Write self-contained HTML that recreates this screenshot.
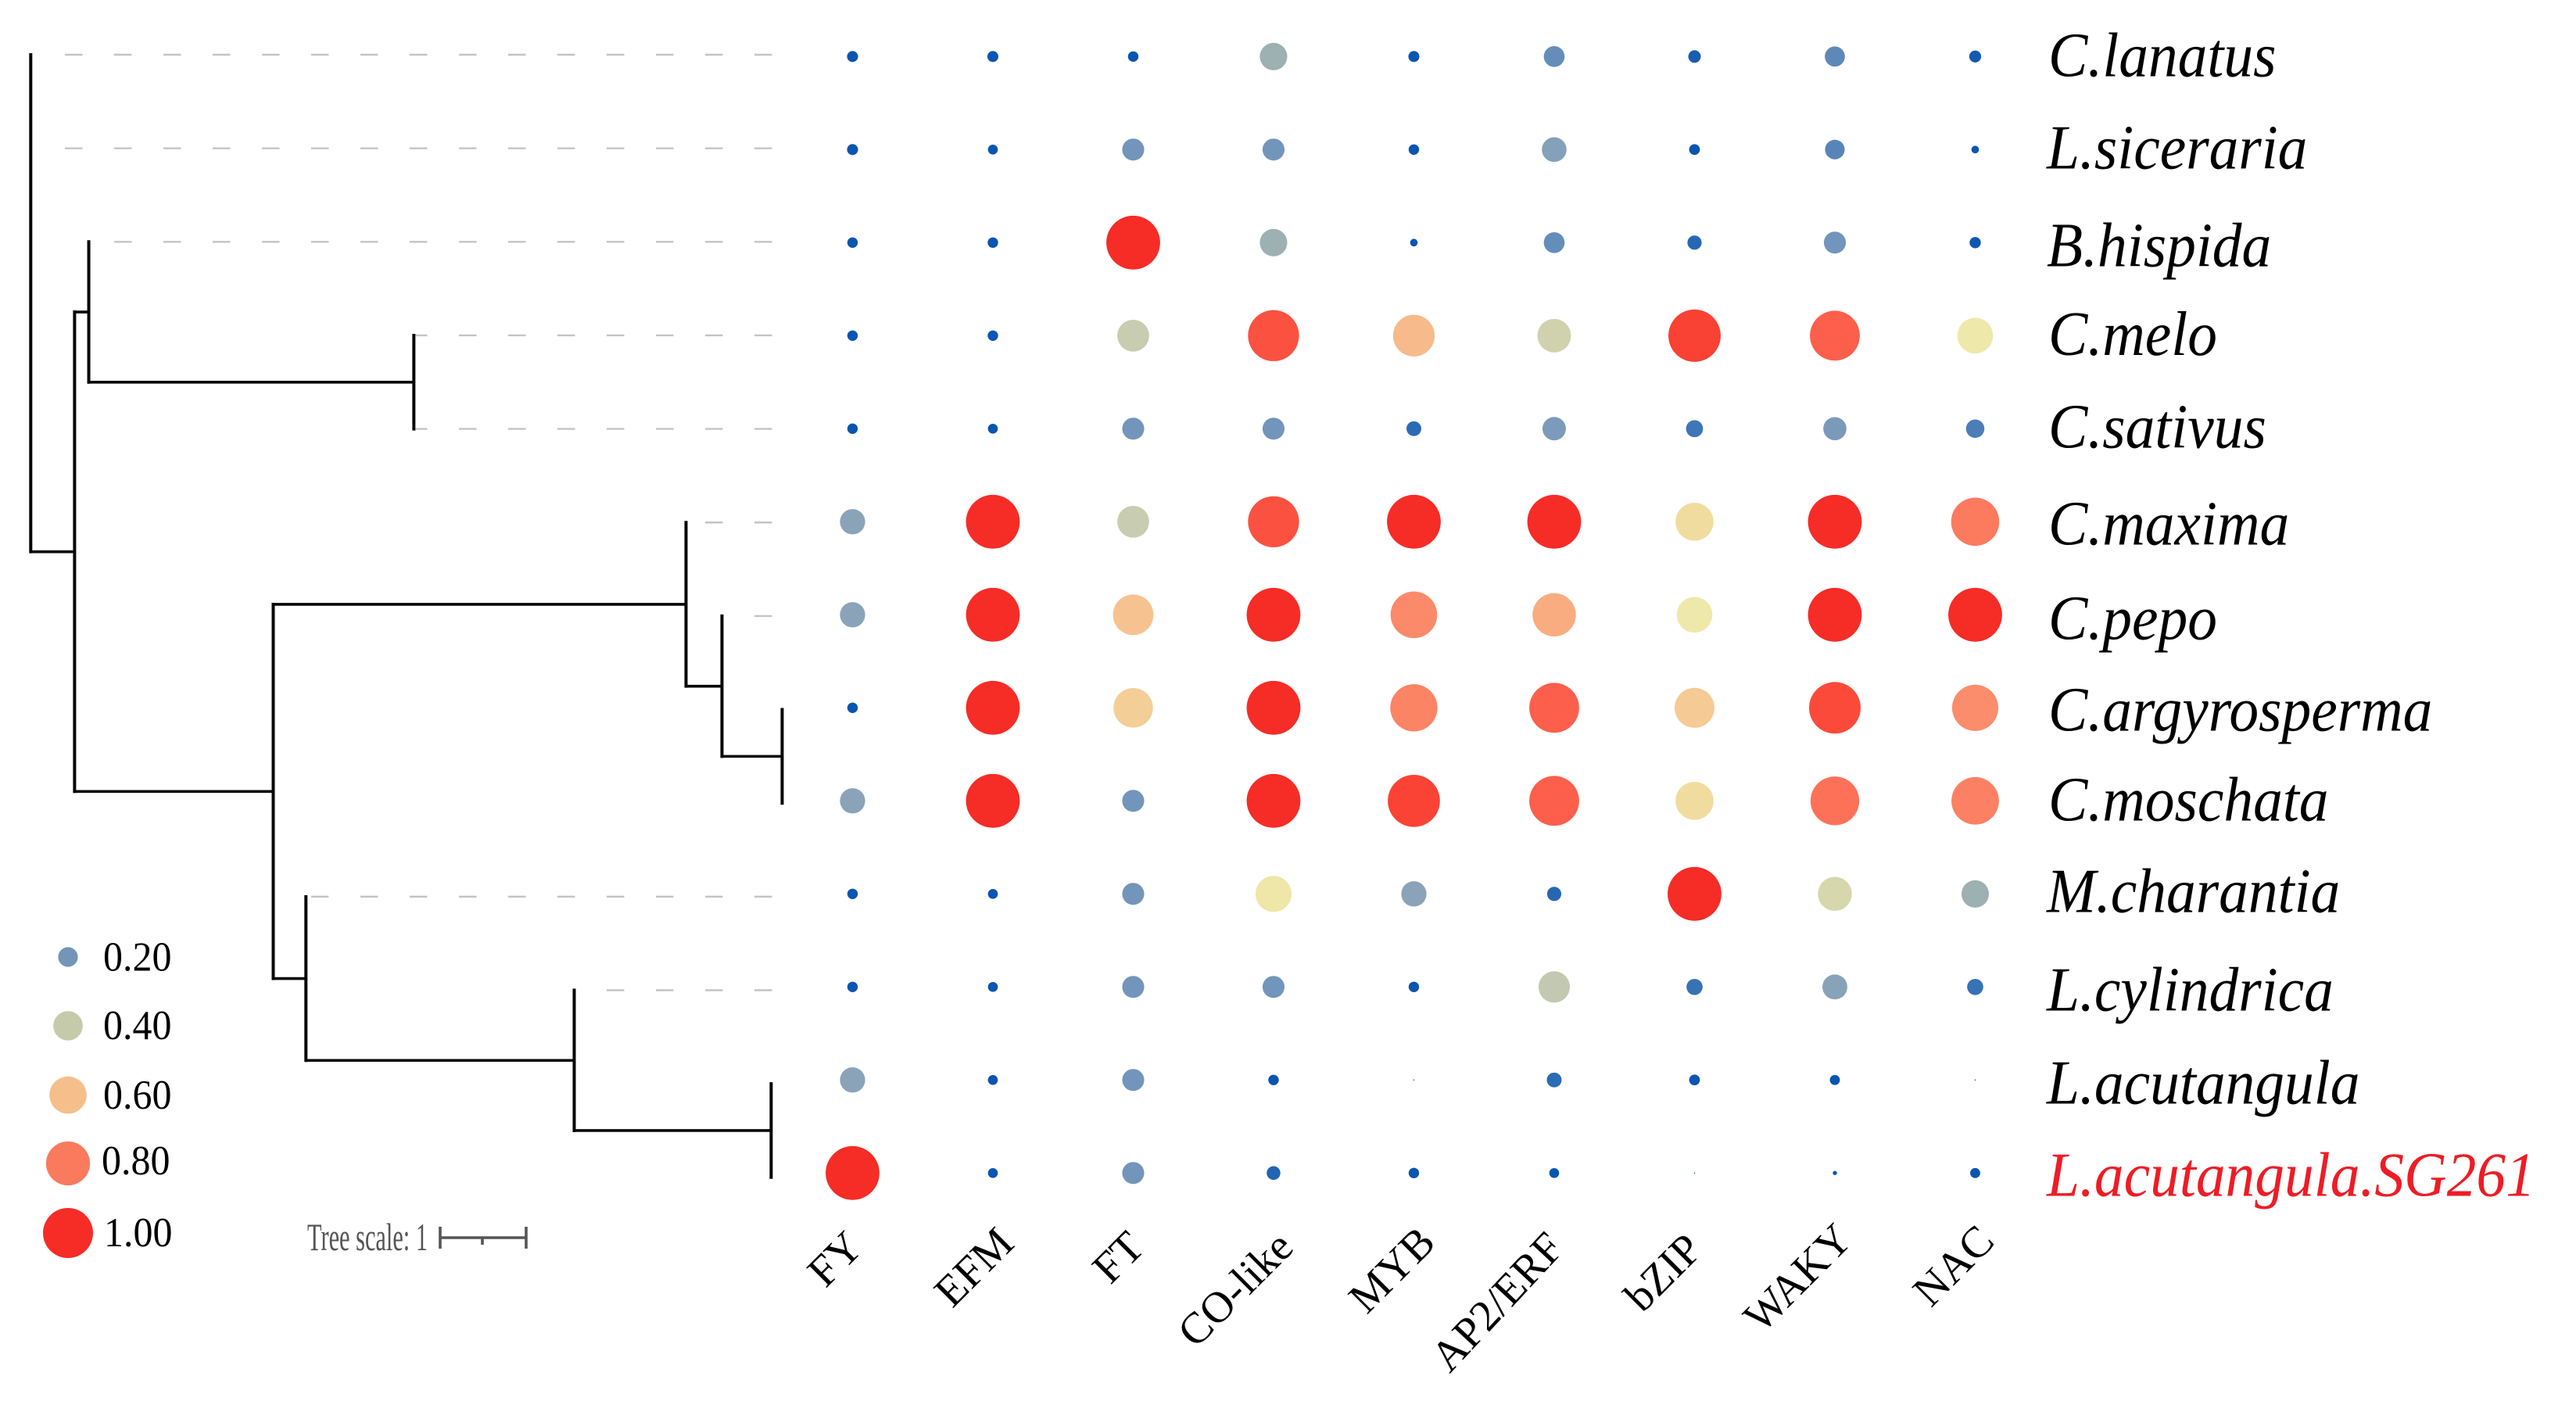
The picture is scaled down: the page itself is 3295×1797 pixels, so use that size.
<!DOCTYPE html>
<html lang="en">
<head>
<meta charset="utf-8">
<title>Phylogeny and gene family dot matrix</title>
<style>
html,body{margin:0;padding:0;background:#fff;}
svg{display:block;}
text{font-family:"Liberation Serif",serif;}
</style>
</head>
<body>
<svg id="chart" xmlns="http://www.w3.org/2000/svg" width="3295" height="1797" viewBox="0 0 3295 1797">
  <rect x="0" y="0" width="3295" height="1797" fill="#ffffff"/>
  <g id="guides"></g>
  <g id="tree"></g>
  <g id="dots"></g>
  <g id="species-labels"></g>
  <g id="family-labels"></g>
  <g id="legend"></g>
  <g>
    <text x="393" y="1599" font-size="50" fill="#555555" textLength="154" lengthAdjust="spacingAndGlyphs">Tree scale: 1</text>
    <path d="M563 1569V1597M563 1583H673M673 1569V1597M617 1583V1592" fill="none" stroke="#555555" stroke-width="3.6"/>
  </g>
</svg>
<script>
const speciesNames = ["C.lanatus","L.siceraria","B.hispida","C.melo","C.sativus","C.maxima","C.pepo","C.argyrosperma","C.moschata","M.charantia","L.cylindrica","L.acutangula","L.acutangula.SG261"];
const familyNames = ["FY","EFM","FT","CO-like","MYB","AP2/ERF","bZIP","WAKY","NAC"];

const valuesFY = [.042,.042,.038,.038,.038,.22,.22,.038,.22,.038,.038,.22,1];
const valuesEFM = [.042,.034,.038,.038,.034,1,1,1,1,.034,.034,.034,.034];
const valuesFT = [.038,.167,1,.35,.167,.35,.57,.54,.167,.167,.167,.167,.167];
const valuesCOlike = [.26,.167,.26,.9,.167,.9,1,1,1,.45,.167,.038,.065];
const valuesMYB = [.042,.038,.02,.6,.076,1,.75,.77,.94,.22,.038,.0005,.038];
const valuesAP2ERF = [.15,.21,.15,.39,.19,1,.65,.86,.86,.07,.34,.076,.034];
const valuesBZIP = [.054,.04,.07,.945,.10,.5,.44,.55,.5,1,.09,.04,.0005];
const valuesWAKY = [.14,.133,.167,.86,.186,1,1,.92,.82,.4,.215,.035,.006];
const valuesNAC = [.049,.02,.044,.44,.117,.8,1,.74,.78,.26,.09,.0005,.035];
const seriesValues = [valuesFY,valuesEFM,valuesFT,valuesCOlike,valuesMYB,valuesAP2ERF,valuesBZIP,valuesWAKY,valuesNAC];

const legendValues = [0.2,0.4,0.6,0.8,1];
const legendLabels = ["0.20","0.40","0.60","0.80","1.00"];

/* Tree topology: parent index, branch length in tree-scale units, leaf row (-1 = internal) */
const treeNodeNames = ["root","lanatus","siceraria","A","B","hispida","C","melo","sativus","D","E","maxima","F","pepo","G","argyrosperma","moschata","H","charantia","I","cylindrica","J","acutangula","sg261"];
const nodeParents = [-1,0,0,0,3,4,4,6,6,3,9,10,10,12,12,14,14,9,17,17,19,19,21,21];
const branchLengths = [0,0,0,.51,.165,0,3.78,0,0,2.31,4.8,0,.418,0,.7,0,0,.38,0,3.12,0,2.29,0,0];
const leafRows = [-1,0,1,-1,-1,2,-1,3,4,-1,-1,5,-1,6,-1,7,8,-1,9,-1,10,-1,11,12];

/* Layout and style (not data) */
const NS = "http://www.w3.org/2000/svg";
const colX = i => 1090.5 + 179.5 * i;
const rowY = i => 72.3 + 119 * i;
const treeRowY = i => 70 + 119.65 * i;
const radius = v => 34.4 * Math.sqrt(v);
const legendRadius = v => 32 * Math.pow(v, 0.58);
const treeX = d => 39.3 + 110 * d;
const speciesNudgeY = [25,24,30,24.5,24,29,31,29,25,23,30,30,29];
const speciesX = [2620,2618,2618,2620,2620,2620,2620,2620,2620,2618,2618,2618,2618];
const familyNudgeX = [16,29.5,17,28,30,15,12.5,25,27];
const familyEndY = [1598,1593,1598,1598,1592,1598,1601,1588,1590];
const familyAngle = [-45,-45,-45,-45,-45,-47,-45,-45,-45];
const legendY = [1224,1312,1400.6,1488,1577];
const legendBaseY = [1241.5,1329,1418,1502,1594];
const legendTextX = [132,132,132,130,133];
const legendColors = ["#7295b8","#c5cbaa","#f5bf8b","#fa7a5d","#f62c26"];
const colorStops = [[0,"#0a55b0"],[.04,"#0a55b0"],[.08,"#2f6db4"],[.167,"#7295bb"],[.22,"#8aa3b8"],[.26,"#9db0b2"],[.35,"#c8ccb0"],[.39,"#d0d2ae"],[.44,"#eee9aa"],[.5,"#f1dca0"],[.57,"#f6c390"],[.65,"#f9ac80"],[.75,"#fb8a6a"],[.8,"#fc7a5e"],[.86,"#fc5f4b"],[.92,"#fb4a3a"],[1,"#f62c26"]];

function hexRgb(h){return [1,3,5].map(k=>parseInt(h.substr(k,2),16));}
function colorFor(v){
  for(let i=1;i<colorStops.length;i++){
    if(v<=colorStops[i][0]){
      const a=colorStops[i-1],b=colorStops[i];
      const t=(v-a[0])/((b[0]-a[0])||1);
      const ca=hexRgb(a[1]),cb=hexRgb(b[1]);
      return "rgb("+ca.map((c,k)=>Math.round(c+(cb[k]-c)*t)).join(",")+")";
    }
  }
  return colorStops[colorStops.length-1][1];
}
function make(tag,parent,attrs){
  const el=document.createElementNS(NS,tag);
  for(const k in attrs) el.setAttribute(k,attrs[k]);
  parent.appendChild(el);
  return el;
}
function slug(s){return s.toLowerCase().replace(/[^a-z0-9]+/g,"-");}

/* Tree geometry */
const nodeDepth = [];
const nodeChildren = nodeParents.map(()=>[]);
nodeParents.forEach((p,i)=>{ if(p>=0) nodeChildren[p].push(i); });
function depthOf(i){
  if(nodeDepth[i]!==undefined) return nodeDepth[i];
  nodeDepth[i]=(nodeParents[i]<0?0:depthOf(nodeParents[i]))+branchLengths[i];
  return nodeDepth[i];
}
nodeParents.forEach((_,i)=>depthOf(i));
const nodeY = [];
function yOf(i){
  if(nodeY[i]!==undefined) return nodeY[i];
  if(leafRows[i]>=0){ nodeY[i]=treeRowY(leafRows[i]); return nodeY[i]; }
  const ys=nodeChildren[i].map(yOf);
  nodeY[i]=(Math.min(...ys)+Math.max(...ys))/2;
  return nodeY[i];
}
nodeParents.forEach((_,i)=>yOf(i));

const treeG=document.getElementById("tree");
nodeParents.forEach((p,i)=>{
  const x=treeX(nodeDepth[i]),y=nodeY[i];
  if(p>=0 && branchLengths[i]>0){
    const h=make("line",treeG,{x1:treeX(nodeDepth[p]),x2:x,y1:y,y2:y,stroke:"#050505","stroke-width":3.6,"stroke-linecap":"square"});
    
    
  }
  if(nodeChildren[i].length){
    const ys=nodeChildren[i].map(c=>nodeY[c]);
    const v=make("line",treeG,{x1:x,x2:x,y1:Math.min(...ys),y2:Math.max(...ys),stroke:"#050505","stroke-width":4,"stroke-linecap":"square"});
    
    
  }
});

/* Dashed guides from each leaf tip to the dot matrix */
const guidesG=document.getElementById("guides");
leafRows.forEach((row,i)=>{
  if(row<0) return;
  const tip=treeX(nodeDepth[i])+2;
  for(let k=0;k<15;k++){
    const start=83+63*k,end=start+22.5;
    if(end<=tip+6) continue;
    const g=make("line",guidesG,{x1:Math.max(start,tip),x2:end,y1:treeRowY(row),y2:treeRowY(row),stroke:"#c4c4c4","stroke-width":2.4});
    
    
  }
});

/* Dots */
const dotsG=document.getElementById("dots");
seriesValues.forEach((vals,c)=>{
  vals.forEach((v,r)=>{
    const dot=make("circle",dotsG,{cx:colX(c),cy:rowY(r),r:radius(v),fill:colorFor(v)});
    
    
  });
});

/* Species labels */
const speciesG=document.getElementById("species-labels");
speciesNames.forEach((name,r)=>{
  const t=make("text",speciesG,{transform:"translate("+speciesX[r]+" "+(rowY(r)+speciesNudgeY[r])+") scale(1 1.07)","font-size":75.5,"font-style":"italic",fill:r===12?"#ee1c25":"#000000"});
  t.textContent=name;
  
  
});

/* Gene family labels */
const familyG=document.getElementById("family-labels");
familyNames.forEach((name,c)=>{
  const x=colX(c)+familyNudgeX[c],y=familyEndY[c];
  const t=make("text",familyG,{transform:"translate("+x+" "+y+") rotate("+familyAngle[c]+")","font-size":56,"text-anchor":"end",fill:"#000000"});
  t.textContent=name;
  
  
});

/* Legend */
const legendG=document.getElementById("legend");
legendValues.forEach((v,i)=>{
  const m=make("circle",legendG,{cx:87,cy:legendY[i],r:legendRadius(v),fill:legendColors[i]});
  
  
  const t=make("text",legendG,{transform:"translate("+legendTextX[i]+" "+legendBaseY[i]+") scale(1 1.05)","font-size":50,fill:"#000000"});
  t.textContent=legendLabels[i];
  
  
});
</script>
</body>
</html>
